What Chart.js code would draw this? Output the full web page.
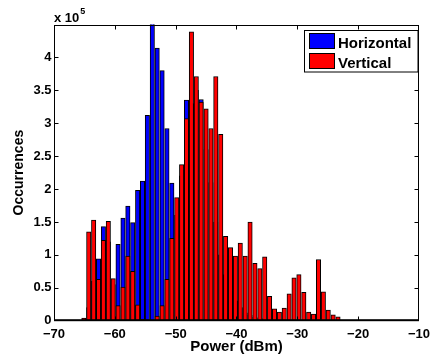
<!DOCTYPE html>
<html>
<head>
<meta charset="utf-8">
<script src="https://cdn.jsdelivr.net/npm/chart.js@4/dist/chart.umd.min.js"></script>
<style>
  html, body { margin: 0; padding: 0; background: #ffffff; }
  #wrap { width: 436px; height: 360px; position: relative; }
</style>
</head>
<body>
<div id="wrap"><canvas id="c" width="436" height="360"></canvas></div>
<script>
// Bin centres (dBm)
const bins = [-65.09, -64.29, -63.48, -62.68, -61.88, -61.07, -60.27, -59.47, -58.66, -57.86,
              -57.06, -56.25, -55.45, -54.65, -53.84, -53.04, -52.23, -51.43, -50.63, -49.82,
              -49.02, -48.22, -47.41, -46.61, -45.81, -45.00, -44.20, -43.40, -42.59, -41.79,
              -40.99, -40.18, -39.38, -38.57, -37.77, -36.97, -36.16, -35.36, -34.56, -33.75,
              -32.95, -32.15, -31.34, -30.54, -29.74, -28.93, -28.13, -27.33, -26.52, -25.72,
              -24.92, -24.11, -23.31];
// Occurrences (x 10^5)
const horizontal = [0.00, 0.20, 0.60, 0.94, 1.43, 1.20, 0.55, 1.16, 1.56, 1.74,
                    1.49, 1.98, 2.12, 3.12, 4.75, 4.14, 3.80, 2.92, 2.09, 1.60,
                    2.20, 3.35, 3.30, 3.50, 3.36, 2.60, 2.10, 1.50, 1.00, 0.70,
                    0.45, 0.30, 0.20, 0.12, 0.08, 0.05, 0.04, 0.03, 0.02, 0.01,
                    0.00, 0.00, 0.00, 0.00, 0.00, 0.00, 0.00, 0.00, 0.00, 0.00,
                    0.00, 0.00, 0.00];
const vertical = [0.04, 1.35, 1.53, 0.63, 1.22, 1.51, 0.64, 0.23, 0.51, 0.98,
                  0.75, 0.24, 0.02, 0.00, 0.01, 0.07, 0.23, 0.63, 1.25, 1.87,
                  2.37, 3.07, 4.39, 3.71, 3.32, 3.22, 2.92, 3.71, 2.83, 1.28,
                  1.11, 0.98, 1.18, 0.98, 1.50, 0.87, 0.79, 0.97, 0.37, 0.18,
                  0.13, 0.19, 0.41, 0.65, 0.70, 0.43, 0.13, 0.10, 0.93, 0.44,
                  0.16, 0.09, 0.06];
const seriesNames = ['Horizontal', 'Vertical'];
const xTicks = [-70, -60, -50, -40, -30, -20, -10];
const yTicks = [0, 0.5, 1, 1.5, 2, 2.5, 3, 3.5, 4];
const exponentText = ['x 10', '5'];
const xTitle = 'Power (dBm)';
const yTitle = 'Occurrences';

const FONT = "'Liberation Sans', Arial, Helvetica, sans-serif";

const framePlugin = {
  id: 'frame',
  afterDraw(chart) {
    const { ctx, chartArea: a, scales } = chart;
    const x = scales.x, y = scales.y;
    ctx.save();
    ctx.strokeStyle = '#000';
    ctx.lineWidth = 1;
    const L = Math.round(a.left) + 0.5, R = Math.round(a.right) - 0.5;
    const T = Math.round(a.top) + 0.5, B = Math.round(a.bottom) - 0.5;
    ctx.strokeRect(L, T, R - L, B - T);
    ctx.fillStyle = '#000';
    ctx.fillRect(a.left, a.bottom - 1.5, a.right - a.left, 2);
    const tl = 4;
    ctx.beginPath();
    xTicks.forEach(v => {
      if (v <= x.min || v >= x.max) return;
      const px = Math.round(x.getPixelForValue(v)) + 0.5;
      ctx.moveTo(px, B); ctx.lineTo(px, B - tl);
      ctx.moveTo(px, T); ctx.lineTo(px, T + tl);
    });
    yTicks.forEach(v => {
      if (v <= y.min || v >= y.max) return;
      const py = Math.round(y.getPixelForValue(v)) + 0.5;
      ctx.moveTo(L, py); ctx.lineTo(L + tl, py);
      ctx.moveTo(R, py); ctx.lineTo(R - tl, py);
    });
    ctx.stroke();

    // exponent label
    ctx.fillStyle = '#000';
    ctx.textBaseline = 'alphabetic';
    ctx.textAlign = 'left';
    ctx.font = 'bold 13px ' + FONT;
    ctx.fillText(exponentText[0], a.left, a.top - 2.5);
    const w = ctx.measureText(exponentText[0]).width;
    ctx.font = 'bold 9px ' + FONT;
    ctx.fillText(exponentText[1], a.left + w + 1, a.top - 11);

    // legend
    const bw = 113.5, bh = 41.5;
    const bx = Math.round(a.right - 1.5 - bw) + 0.5, by = Math.round(a.top + 5) + 0.5;
    ctx.fillStyle = '#fff';
    ctx.fillRect(bx, by, bw, bh);
    ctx.strokeStyle = '#000';
    ctx.strokeRect(bx, by, bw, bh);
    ctx.font = 'bold 15px ' + FONT;
    chart.data.datasets.forEach((ds, i) => {
      const sy = by + 3 + i * 20;
      ctx.fillStyle = ds.backgroundColor;
      ctx.fillRect(bx + 5, sy, 25, 15);
      ctx.strokeStyle = '#000';
      ctx.strokeRect(bx + 5, sy, 25, 15);
      ctx.fillStyle = '#000';
      ctx.fillText(ds.label, bx + 33.5, sy + 14);
    });
    ctx.restore();
  }
};

const toPts = arr => bins.map((b, i) => ({ x: b, y: arr[i] }));

new Chart(document.getElementById('c'), {
  type: 'bar',
  data: {
    datasets: [
      { label: seriesNames[0], data: toPts(horizontal), backgroundColor: '#0000ff',
        borderColor: '#000', borderWidth: 1, order: 2 },
      { label: seriesNames[1], data: toPts(vertical), backgroundColor: '#ff0000',
        borderColor: '#000', borderWidth: 1, order: 1 }
    ]
  },
  options: {
    responsive: false,
    animation: false,
    devicePixelRatio: 1,
    datasets: { bar: { grouped: false, barThickness: 4.4 } },
    layout: { padding: { top: 24.5, right: 9.5, left: 0, bottom: 0 } },
    plugins: { legend: { display: false }, tooltip: { enabled: false } },
    scales: {
      x: {
        type: 'linear', min: -70, max: -10, offset: false,
        grid: { display: false, offset: false, drawTicks: false },
        border: { display: false },
        afterBuildTicks: s => { s.ticks = xTicks.map(v => ({ value: v })); },
        afterFit: s => { s.height = 39.3; },
        ticks: {
          padding: 6, color: '#000', maxRotation: 0, autoSkip: false,
          font: { family: FONT, size: 13, weight: 'bold' },
          callback: v => String(v).replace('-', '\u2212')
        },
        title: {
          display: true, text: xTitle, color: '#000',
          font: { family: FONT, size: 15, weight: 'bold' },
          padding: { top: 0, bottom: 4 }
        }
      },
      y: {
        min: 0, max: 4.5,
        grid: { display: false, drawTicks: false },
        border: { display: false },
        afterBuildTicks: s => { s.ticks = yTicks.map(v => ({ value: v })); },
        afterFit: s => { s.width = 54; },
        ticks: {
          padding: 2.5, color: '#000', autoSkip: false,
          font: { family: FONT, size: 13, weight: 'bold' },
          callback: v => String(v)
        },
        title: {
          display: true, text: yTitle, color: '#000',
          font: { family: FONT, size: 14, weight: 'bold' },
          padding: { top: 10.5, bottom: 0 }
        }
      }
    }
  },
  plugins: [framePlugin]
});
</script>
</body>
</html>
